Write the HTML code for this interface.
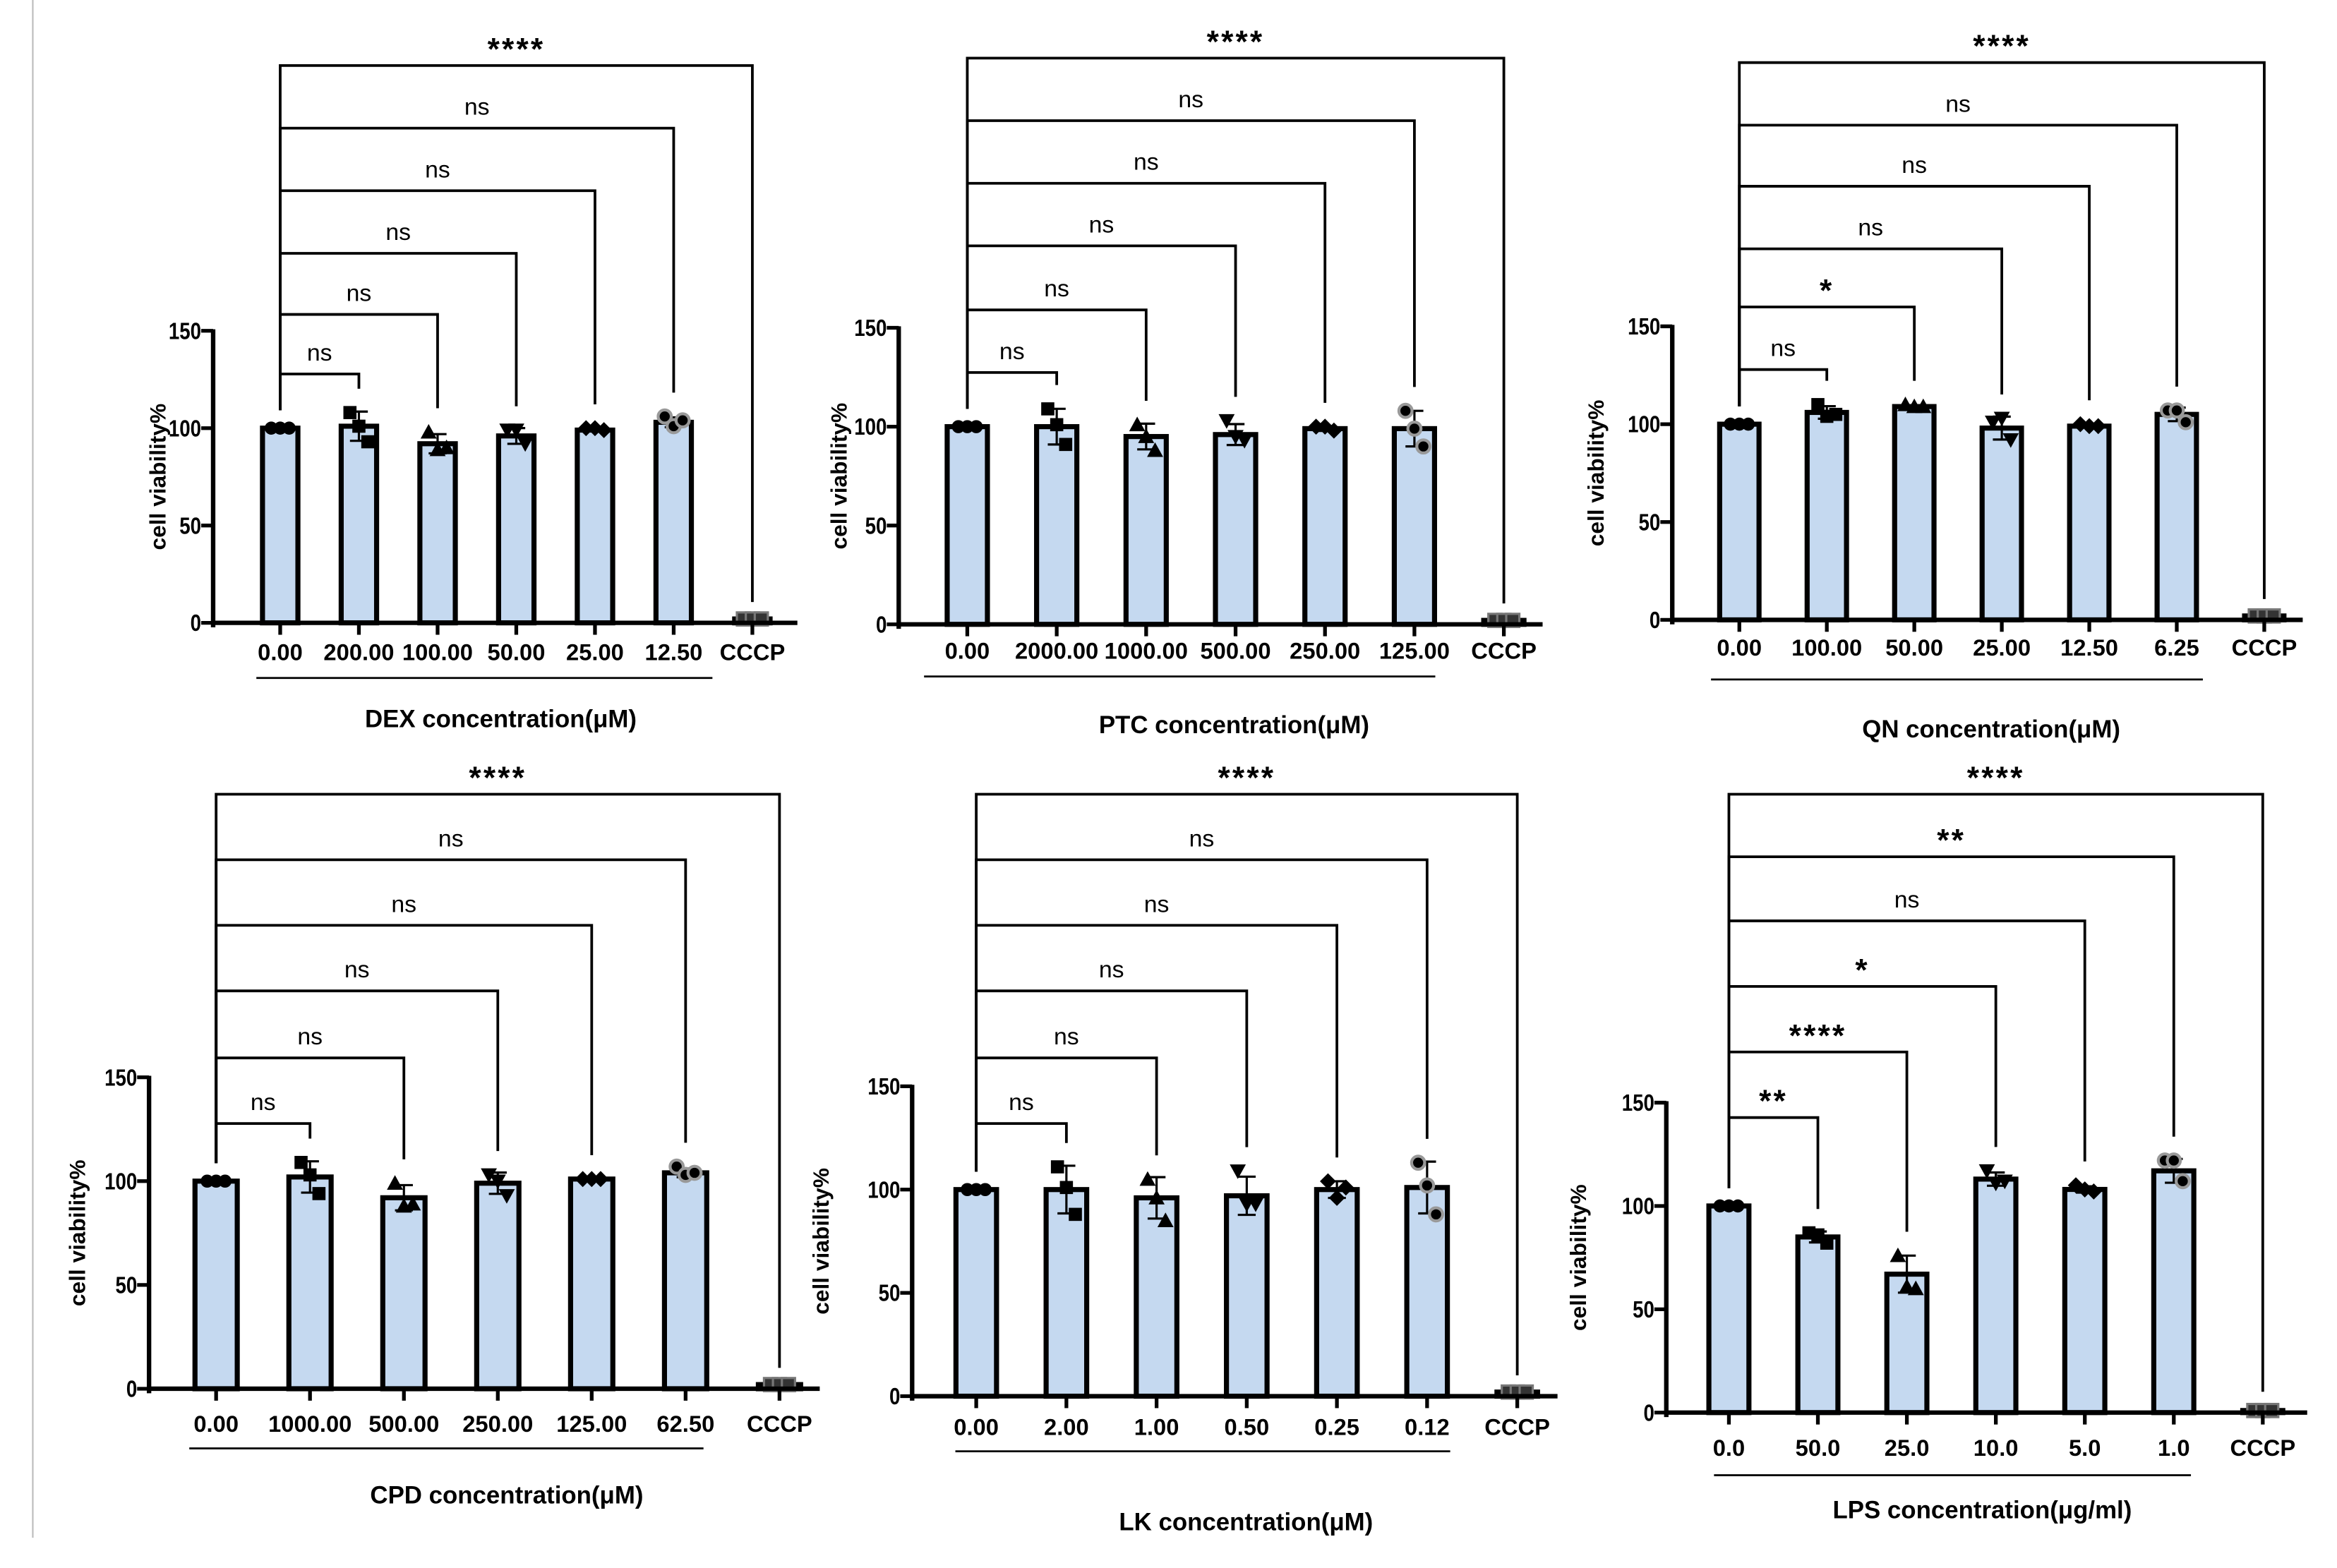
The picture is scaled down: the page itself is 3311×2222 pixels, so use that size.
<!DOCTYPE html>
<html><head><meta charset="utf-8">
<style>
html,body{margin:0;padding:0;background:#fff;}
svg{display:block;}
text{font-family:"Liberation Sans",Arial,sans-serif;}
</style></head>
<body>
<svg id="fig" width="3311" height="2222" viewBox="0 0 1568 1052.3" preserveAspectRatio="none" xmlns="http://www.w3.org/2000/svg">
<line x1="22" y1="0" x2="22" y2="1032" stroke="#bbb" stroke-width="1"/>
</svg>
<script>
// ---- data ----
const dexCats=["0.00","200.00","100.00","50.00","25.00","12.50","CCCP"];
const dexMeans=[100,101,92,96,99,103,2];
const dexPts=[[100,100,100],[108,101,93],[98,89,90],[99,99,92],[100,100,99],[106,101,104],[2,2,2]];
const dexSig=["ns","ns","ns","ns","ns","****"];
const ptcCats=["0.00","2000.00","1000.00","500.00","250.00","125.00","CCCP"];
const ptcMeans=[100,100,95,96,99,99,2];
const ptcPts=[[100,100,100],[109,101,91],[101,95,88],[103,95,93],[100,100,98],[108,99,90],[2,2,2]];
const ptcSig=["ns","ns","ns","ns","ns","****"];
const qnCats=["0.00","100.00","50.00","25.00","12.50","6.25","CCCP"];
const qnMeans=[100,106,109,98,99,105,2];
const qnPts=[[100,100,100],[110,104,105],[110,109,109],[101,103,92],[100,99,99],[107,107,101],[2,2,2]];
const qnSig=["ns","*","ns","ns","ns","****"];
const cpdCats=["0.00","1000.00","500.00","250.00","125.00","62.50","CCCP"];
const cpdMeans=[100,102,92,99,101,104,2];
const cpdPts=[[100,100,100],[109,103,94],[99,88,89],[103,100,93],[101,101,101],[107,103,104],[2,2,2]];
const cpdSig=["ns","ns","ns","ns","ns","****"];
const lkCats=["0.00","2.00","1.00","0.50","0.25","0.12","CCCP"];
const lkMeans=[100,100,96,97,100,101,2];
const lkPts=[[100,100,100],[111,101,88],[105,96,85],[109,93,93],[104,96,101],[113,102,88],[2,2,2]];
const lkSig=["ns","ns","ns","ns","ns","****"];
const lpsCats=["0.0","50.0","25.0","10.0","5.0","1.0","CCCP"];
const lpsMeans=[100,85,67,113,108,117,1];
const lpsPts=[[100,100,100],[87,86,82],[76,61,60],[117,111,112],[110,108,107],[122,122,112],[1,1,1]];
const lpsSig=["**","****","*","ns","**","****"];
const yTicks=[0,50,100,150];

const NS="http://www.w3.org/2000/svg";
const svg=document.getElementById('fig');
function mk(tag,attrs,parent){const e=document.createElementNS(NS,tag);for(const k in attrs)e.setAttribute(k,attrs[k]);(parent||svg).appendChild(e);return e;}

const panels=[
 {name:"dex",cats:dexCats,means:dexMeans,pts:dexPts,sig:dexSig,ax:143,y0:418,y150:222,x0:188,dx:52.8,xEnd:535,brY:[251,211,170,128,86,44],tickY:443,ul:[172,478,455],title:"DEX concentration(μM)",tx:336,ty:488,ylx:112},
 {name:"ptc",cats:ptcCats,means:ptcMeans,pts:ptcPts,sig:ptcSig,ax:603,y0:419,y150:220,x0:649,dx:60,xEnd:1035,brY:[250,208,165,123,81,39],tickY:442,ul:[620,963,454],title:"PTC concentration(μM)",tx:828,ty:492,ylx:569},
 {name:"qn",cats:qnCats,means:qnMeans,pts:qnPts,sig:qnSig,ax:1122,y0:416,y150:219,x0:1167,dx:58.7,xEnd:1545,brY:[248,206,167,125,84,42],tickY:440,ul:[1148,1478,456],title:"QN concentration(μM)",tx:1336,ty:495,ylx:1077},
 {name:"cpd",cats:cpdCats,means:cpdMeans,pts:cpdPts,sig:cpdSig,ax:100,y0:932,y150:723,x0:145,dx:63,xEnd:550,brY:[754,710,665,621,577,533],tickY:961,ul:[127,472,972],title:"CPD concentration(μM)",tx:340,ty:1009,ylx:58},
 {name:"lk",cats:lkCats,means:lkMeans,pts:lkPts,sig:lkSig,ax:612,y0:937,y150:729,x0:655,dx:60.5,xEnd:1045,brY:[754,710,665,621,577,533],tickY:963,ul:[641,973,974],title:"LK concentration(μM)",tx:836,ty:1027,ylx:557},
 {name:"lps",cats:lpsCats,means:lpsMeans,pts:lpsPts,sig:lpsSig,ax:1118,y0:948,y150:740,x0:1160,dx:59.7,xEnd:1548,brY:[750,706,662,618,575,533],tickY:977,ul:[1150,1470,990],title:"LPS concentration(μg/ml)",tx:1330,ty:1019,ylx:1065}
];
const shapes=["circle","square","tri-up","tri-down","diamond","ring","gsquare"];

function marker(g,shape,x,y){
  const r=4.4;
  if(shape==="circle")return mk('circle',{cx:x,cy:y,r:r,fill:'#000'},g);
  if(shape==="ring")return mk('circle',{cx:x,cy:y,r:r,fill:'#000',stroke:'#999','stroke-width':2},g);
  if(shape==="square")return mk('rect',{x:x-r,y:y-r,width:2*r,height:2*r,fill:'#000'},g);
  if(shape==="gsquare")return mk('rect',{x:x-r,y:y-r,width:2*r,height:2*r,fill:'#333',stroke:'#777','stroke-width':1.5},g);
  if(shape==="tri-up")return mk('polygon',{points:`${x},${y-r-1} ${x+r+1},${y+r} ${x-r-1},${y+r}`,fill:'#000'},g);
  if(shape==="tri-down")return mk('polygon',{points:`${x},${y+r+1} ${x+r+1},${y-r} ${x-r-1},${y-r}`,fill:'#000'},g);
  return mk('polygon',{points:`${x},${y-r-1} ${x+r+1},${y} ${x},${y+r+1} ${x-r-1},${y}`,fill:'#000'},g);
}

panels.forEach(p=>{
  const g=mk('g',{});
  
  
  const yS=v=>p.y0-(v/150)*(p.y0-p.y150);
  const xS=i=>p.x0+i*p.dx;
  const bw=p.dx*0.45;
  p.means.forEach((m,i)=>{
    const b=mk('rect',{x:xS(i)-bw/2,y:yS(m),width:bw,height:p.y0-yS(m),fill:i===6?'#555':'#c5d9f0',stroke:'#000','stroke-width':3.4},g);
    
    
    const pts=p.pts[i];const mean=pts.reduce((a,b)=>a+b,0)/pts.length;
    const sd=Math.sqrt(pts.reduce((a,b)=>a+(b-mean)*(b-mean),0)/(pts.length-1));
    if(sd>0.5){
      mk('line',{x1:xS(i),x2:xS(i),y1:yS(m+sd),y2:yS(m-sd),stroke:'#000','stroke-width':1.5},g);
      mk('line',{x1:xS(i)-6,x2:xS(i)+6,y1:yS(m+sd),y2:yS(m+sd),stroke:'#000','stroke-width':1.5},g);
      mk('line',{x1:xS(i)-6,x2:xS(i)+6,y1:yS(m-sd),y2:yS(m-sd),stroke:'#000','stroke-width':1.5},g);
    }
    pts.forEach((v,k)=>{
      const mm=marker(g,shapes[i],xS(i)+(k-1)*6,yS(v));
      
      
    });
    mk('line',{x1:xS(i),x2:xS(i),y1:p.y0,y2:p.y0+8,stroke:'#000','stroke-width':2.5},g);
    const t=mk('text',{x:xS(i),y:p.tickY,'text-anchor':'middle','font-size':15.5,'font-weight':'bold'},g);
    t.textContent=p.cats[i];
    
    
  });
  const ya=mk('line',{x1:p.ax,x2:p.ax,y1:p.y150-1,y2:p.y0+3,stroke:'#000','stroke-width':3},g);
  
  const xa=mk('line',{x1:p.ax,x2:p.xEnd,y1:p.y0,y2:p.y0,stroke:'#000','stroke-width':3},g);
  
  yTicks.forEach(v=>{
    mk('line',{x1:p.ax-8,x2:p.ax,y1:yS(v),y2:yS(v),stroke:'#000','stroke-width':2.5},g);
    const t=mk('text',{x:0,y:0,transform:`translate(${p.ax-8},${yS(v)+5.5}) scale(0.82,1)`,'text-anchor':'end','font-size':16,'font-weight':'bold'},g);
    t.textContent=v;
    
    
  });
  const yl=mk('text',{x:0,y:0,transform:`translate(${p.ylx-1},${(p.y0+p.y150)/2}) rotate(-90)`,'text-anchor':'middle','font-size':15,'font-weight':'bold'},g);
  yl.textContent='cell viability%';
  
  mk('line',{x1:p.ul[0],x2:p.ul[1],y1:p.ul[2],y2:p.ul[2],stroke:'#000','stroke-width':1.3},g);
  const tt=mk('text',{x:p.tx,y:p.ty,'text-anchor':'middle','font-size':16.5,'font-weight':'bold'},g);
  tt.textContent=p.title;
  
  p.sig.forEach((s,k)=>{
    const j=k+1;const by=p.brY[k];
    const topL=yS(Math.max(...p.pts[0]))-12;
    const topR=j===6?p.y0-14:yS(Math.max(...p.pts[j],p.means[j]))-16;
    const br=mk('path',{d:`M${xS(0)},${topL} V${by} H${xS(j)} V${topR}`,fill:'none',stroke:'#000','stroke-width':1.8},g);
    
    const isStar=s!=='ns';
    const lt=mk('text',{x:(xS(0)+xS(j))/2,y:isStar?by-4:by-9,'text-anchor':'middle','font-size':isStar?21:16,'font-weight':isStar?'bold':'normal','letter-spacing':isStar?'1.5':'0'},g);
    lt.textContent=s;
    
  });
});
</script>
</body></html>
